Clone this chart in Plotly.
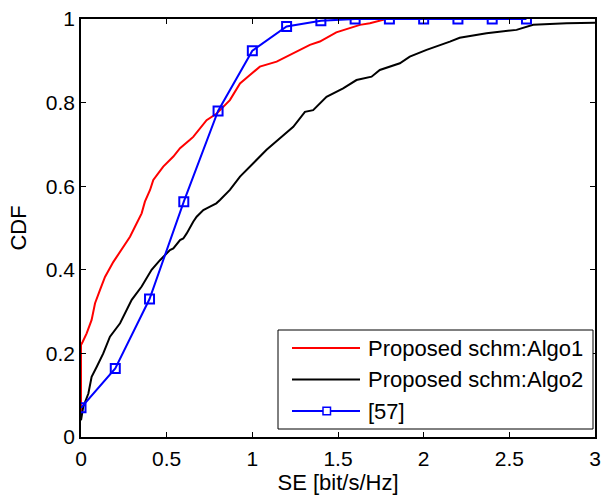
import plotly.graph_objects as go

algo1_x = [0.0, 0.0, 0.01, 0.033, 0.062, 0.082, 0.111, 0.14, 0.189, 0.247, 0.286, 0.315,
           0.354, 0.373, 0.403, 0.422, 0.48, 0.539, 0.578, 0.636, 0.655, 0.733, 0.792, 0.869,
           0.928, 0.986, 1.044, 1.142, 1.239, 1.336, 1.394, 1.49, 1.628, 1.686, 1.764, 1.78]
algo1_y = [0.05, 0.22, 0.228, 0.248, 0.28, 0.32, 0.352, 0.383, 0.419, 0.455, 0.479, 0.503,
           0.535, 0.563, 0.591, 0.615, 0.647, 0.671, 0.691, 0.711, 0.718, 0.758, 0.774, 0.806,
           0.846, 0.866, 0.886, 0.898, 0.918, 0.938, 0.946, 0.968, 0.986, 0.99, 0.998, 1.0]

# Algo2 (black) empirical CDF
algo2_x = [0.0, 0.004, 0.013, 0.043, 0.062, 0.092, 0.13, 0.169, 0.228, 0.296, 0.354, 0.412,
           0.461, 0.519, 0.539, 0.578, 0.597, 0.617, 0.636, 0.655, 0.675, 0.714, 0.753, 0.79,
           0.811, 0.869, 0.928, 1.005, 1.083, 1.161, 1.239, 1.307, 1.355, 1.433, 1.53, 1.608,
           1.696, 1.744, 1.861, 1.919, 2.017, 2.153, 2.21, 2.367, 2.542, 2.639, 2.834, 3.0]
algo2_y = [0.04, 0.048, 0.072, 0.104, 0.144, 0.168, 0.2, 0.24, 0.272, 0.328, 0.36, 0.40,
           0.423, 0.447, 0.451, 0.471, 0.475, 0.487, 0.503, 0.515, 0.527, 0.543, 0.551, 0.559,
           0.567, 0.591, 0.623, 0.655, 0.687, 0.715, 0.742, 0.778, 0.782, 0.814, 0.834, 0.854,
           0.862, 0.878, 0.894, 0.91, 0.926, 0.946, 0.955, 0.966, 0.974, 0.986, 0.99, 0.991]

# [57] (blue) with square markers
ref57_x = [0.0, 0.2, 0.4, 0.6, 0.8, 1.0, 1.2, 1.4, 1.6, 1.8, 2.0, 2.2, 2.4, 2.6]
ref57_y = [0.07, 0.164, 0.33, 0.563, 0.78, 0.924, 0.982, 0.996, 1.0, 1.0, 1.0, 1.0, 1.0, 1.0]

names = ["Proposed schm:Algo1", "Proposed schm:Algo2", "[57]"]
colors = ["#ff0000", "#000000", "#0000ff"]
x_ticks = [0, 0.5, 1, 1.5, 2, 2.5, 3]
x_tick_text = ["0", "0.5", "1", "1.5", "2", "2.5", "3"]
y_ticks = [0, 0.2, 0.4, 0.6, 0.8, 1]
y_tick_text = ["0", "0.2", "0.4", "0.6", "0.8", "1"]

FONT = "Liberation Sans, Arial, sans-serif"
W, H = 604, 496
ML, MR, MT, MB = 81, 9, 19, 59
PW, PH = W - ML - MR, H - MT - MB


def px_x(p):
    return (p - ML) / PW


def px_y(p):
    return (H - MB - p) / PH


fig = go.Figure()
fig.add_trace(go.Scatter(x=algo1_x, y=algo1_y, mode="lines", name=names[0],
                         line=dict(color=colors[0], width=2)))
fig.add_trace(go.Scatter(x=algo2_x, y=algo2_y, mode="lines", name=names[1],
                         line=dict(color=colors[1], width=2)))
fig.add_trace(go.Scatter(x=ref57_x, y=ref57_y, mode="lines+markers", name=names[2],
                         line=dict(color=colors[2], width=2),
                         marker=dict(symbol="square-open", size=9,
                                     line=dict(color=colors[2], width=2))))

axis_common = dict(showgrid=False, zeroline=False, showline=True, linecolor="black",
                   linewidth=1.5, mirror="ticks", ticks="inside", ticklen=5,
                   tickwidth=1, tickcolor="black",
                   tickfont=dict(family=FONT, size=21, color="black"))

fig.update_xaxes(range=[0, 3], tickvals=x_ticks, ticktext=x_tick_text,
                 ticklabelstandoff=2,
                 title=dict(text="SE [bit/s/Hz]", font=dict(family=FONT, size=22, color="black"),
                            standoff=5),
                 **axis_common)
fig.update_yaxes(range=[0, 1], tickvals=y_ticks, ticktext=y_tick_text,
                 title=dict(text="CDF", font=dict(family=FONT, size=22, color="black"),
                            standoff=13),
                 **axis_common)

# Legend drawn by hand (MATLAB style): box, long sample lines, text
shapes = [dict(type="rect", xref="paper", yref="paper",
               x0=px_x(278), x1=px_x(593), y0=px_y(429), y1=px_y(330),
               line=dict(color="black", width=1), fillcolor="white", layer="above")]
annotations = []
rows_y = [348, 379.5, 411]
for name, col, ry in zip(names, colors, rows_y):
    shapes.append(dict(type="line", xref="paper", yref="paper",
                       x0=px_x(292), x1=px_x(360), y0=px_y(ry), y1=px_y(ry),
                       line=dict(color=col, width=2), layer="above"))
    annotations.append(dict(text=name, xref="paper", yref="paper", x=px_x(366), y=px_y(ry),
                            xanchor="left", yanchor="middle", showarrow=False,
                            font=dict(family=FONT, size=22, color="black")))
shapes.append(dict(type="rect", xref="paper", yref="paper",
                   x0=px_x(323), x1=px_x(330.5), y0=px_y(rows_y[2] + 3.75), y1=px_y(rows_y[2] - 3.75),
                   line=dict(color=colors[2], width=1.5), fillcolor="white", layer="above"))

fig.update_layout(
    width=W, height=H,
    margin=dict(l=ML, r=MR, t=MT, b=MB, autoexpand=False),
    plot_bgcolor="white", paper_bgcolor="white",
    font=dict(family=FONT, size=21, color="black"),
    showlegend=False,
    shapes=shapes, annotations=annotations,
)

fig.write_html("out.html", config={"displayModeBar": False},
               post_script="document.body.style.margin='0';")
